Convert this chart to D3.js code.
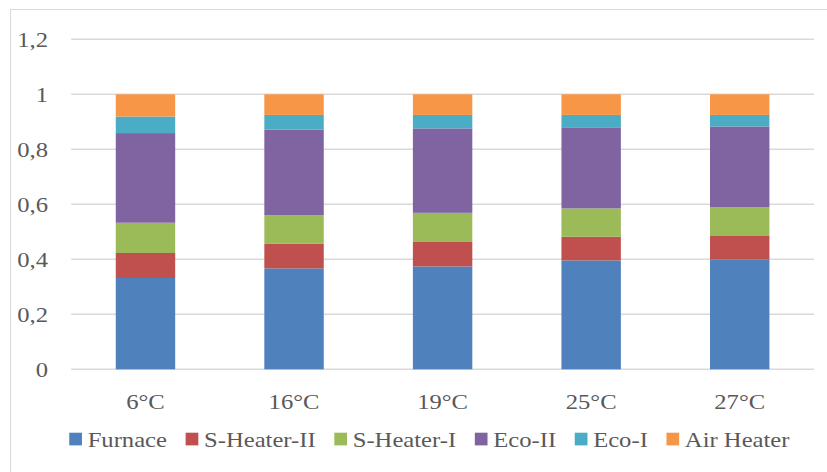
<!DOCTYPE html>
<html>
<head>
<meta charset="utf-8">
<script src="https://cdn.jsdelivr.net/npm/d3@7"></script>
<style>
  html, body { margin: 0; padding: 0; background: #fff; }
  svg { display: block; }
  text { font-family: "Liberation Serif", "Times New Roman", serif; fill: #595959; }
</style>
</head>
<body>
<svg id="chart" width="827" height="472"></svg>
<script>
// Share of heat absorbed per section, by ambient temperature
const categories = ["6°C", "16°C", "19°C", "25°C", "27°C"];
const seriesNames = ["Furnace", "S-Heater-II", "S-Heater-I", "Eco-II", "Eco-I", "Air Heater"];
const furnace   = [0.332, 0.367, 0.374, 0.396, 0.400];
const sHeaterII = [0.091, 0.089, 0.089, 0.086, 0.087];
const sHeaterI  = [0.110, 0.104, 0.106, 0.103, 0.102];
const ecoII     = [0.326, 0.312, 0.307, 0.295, 0.294];
const ecoI      = [0.060, 0.053, 0.049, 0.045, 0.042];
const airHeater = [0.081, 0.075, 0.075, 0.075, 0.075];
const yTicks = [0, 0.2, 0.4, 0.6, 0.8, 1, 1.2];
const colors = ["#4F81BD", "#C0504D", "#9BBB59", "#8064A2", "#4BACC6", "#F79646"];

const seriesValues = [furnace, sHeaterII, sHeaterI, ecoII, ecoI, airHeater];
const rows = categories.map((c, i) => {
  const r = { category: c };
  seriesNames.forEach((s, k) => r[s] = seriesValues[k][i]);
  return r;
});

const svg = d3.select("#chart");
const margin = { left: 71.2, right: 827 - 814, top: 39.3, bottom: 472 - 369.3 };
const plotW = 827 - margin.left - margin.right;
const plotH = 472 - margin.top - margin.bottom;
const FONT = 22, SX = 1.12;

// chart area frame
svg.append("rect")
  .attr("x", 10.5).attr("y", 9.5).attr("width", 830).attr("height", 480)
  .attr("fill", "#fff").attr("stroke", "#d9d9d9").attr("stroke-width", 1);

const x = d3.scaleBand().domain(categories).range([margin.left, margin.left + plotW])
  .paddingInner(0.6).paddingOuter(0.3);
const y = d3.scaleLinear().domain([0, 1.2]).range([margin.top + plotH, margin.top]);

// horizontal gridlines
svg.append("g").selectAll("line").data(yTicks).join("line")
  .attr("x1", margin.left).attr("x2", margin.left + plotW)
  .attr("y1", d => y(d)).attr("y2", d => y(d))
  .attr("stroke", "#d9d9d9").attr("stroke-width", 1.5);

// y tick labels (comma decimal)
const fmt = d => d3.format("")(d).replace(".", ",");
svg.append("g").selectAll("text").data(yTicks).join("text")
  .attr("transform", d => `translate(48,${y(d) + 8}) scale(${SX},1)`)
  .attr("text-anchor", "end").attr("font-size", FONT)
  .text(fmt);

// stacked bars
const stack = d3.stack().keys(seriesNames)(rows);
svg.append("g").selectAll("g").data(stack).join("g")
  .attr("fill", (d, i) => colors[i])
  .selectAll("rect").data(d => d).join("rect")
  .attr("x", d => x(d.data.category))
  .attr("width", x.bandwidth())
  .attr("y", d => y(d[1]))
  .attr("height", d => y(d[0]) - y(d[1]));

// category labels
svg.append("g").selectAll("text").data(categories).join("text")
  .attr("transform", d => `translate(${x(d) + x.bandwidth() / 2},408.5) scale(${SX},1)`)
  .attr("text-anchor", "middle").attr("font-size", FONT)
  .text(d => d);

// legend
const legend = svg.append("g");
const sw = 12.7, swGap = 5.7, itemGap = 18.6;
const items = legend.selectAll("g").data(seriesNames).join("g");
items.append("rect").attr("width", sw).attr("height", sw)
  .attr("y", 432.7).attr("fill", (d, i) => colors[i]);
items.append("text").attr("font-size", FONT).text(d => d);
let widths = [];
items.each(function () {
  widths.push(d3.select(this).select("text").node().getComputedTextLength() * SX);
});
const total = d3.sum(widths) + seriesNames.length * (sw + swGap) + (seriesNames.length - 1) * itemGap;
let cx = 429.4 - total / 2;
items.each(function (d, i) {
  const g = d3.select(this);
  g.select("rect").attr("x", cx);
  g.select("text").attr("transform", `translate(${cx + sw + swGap},447.3) scale(${SX},1)`);
  cx += sw + swGap + widths[i] + itemGap;
});
</script>
</body>
</html>
